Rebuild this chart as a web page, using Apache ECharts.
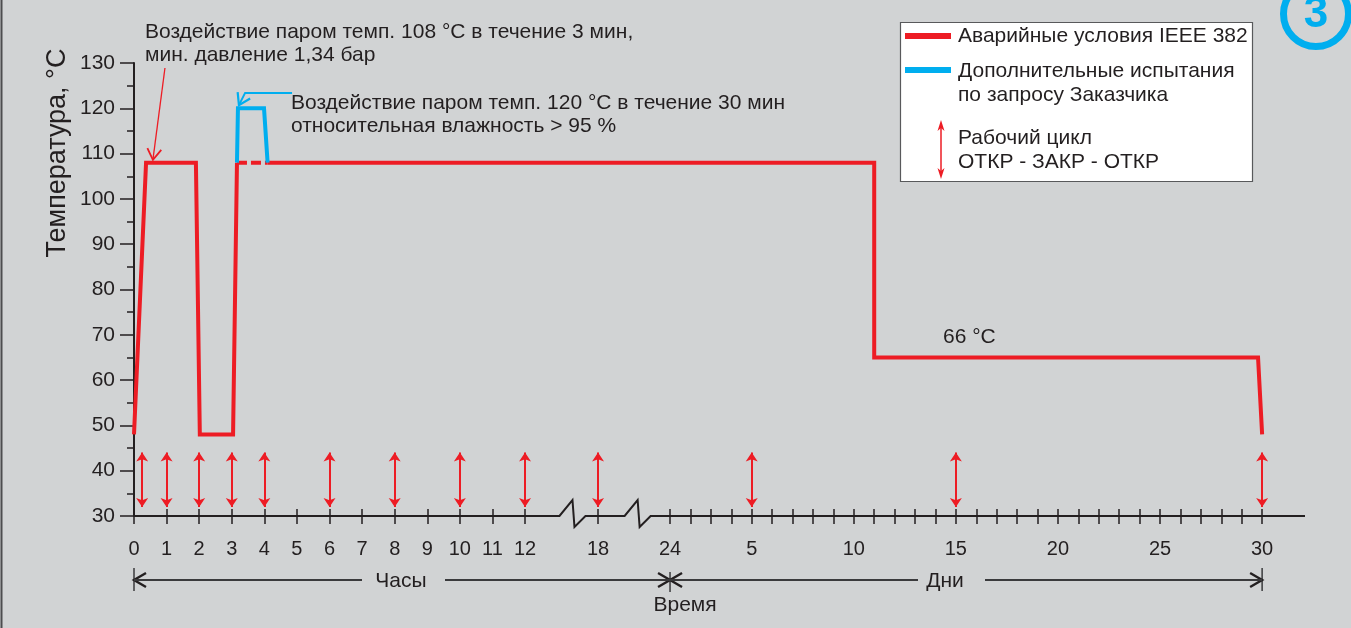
<!DOCTYPE html>
<html><head><meta charset="utf-8">
<script src="https://cdn.jsdelivr.net/npm/echarts@6/dist/echarts.min.js"></script>
<style>html,body{margin:0;padding:0;background:#d1d3d4;overflow:hidden}#c{width:1351px;height:628px}</style>
</head><body><div id="c"></div>
<script>
// ---------------- data ----------------
// Time axis ticks (hours part, then days part; day 1 == 24 h)
const hourTicks = [0,1,2,3,4,5,6,7,8,9,10,11,12,18,24];
const hourTickLabels = ['0','1','2','3','4','5','6','7','8','9','10','11','12','18','24'];
const dayTicks = [2,3,4,5,6,7,8,9,10,11,12,13,14,15,16,17,18,19,20,21,22,23,24,25,26,27,28,29,30];
const dayLabelDays = [5,10,15,20,25,30];
const dayTickLabels = ['5','10','15','20','25','30'];
const breakHours = [15.9, 21.3];
const xEndDays = 32.1;

// IEEE 382 accident profile (°C)
const ieeeHoursPart = [[0,48],[0.37,108],[1.9,108],[2.02,48],[3.04,48],[3.16,108]];
const ieeeDashedHours = [[3.16,108],[4.1,108]];
const ieeeLongStartHours = [[4.1,108]];
const ieeeDaysPart = [[11,108],[11,65],[29.8,65],[30,48]];
// Additional test on customer request
const extraHours = [[3.16,108],[3.19,120],[3.99,120],[4.1,108]];
// Operating cycles OPEN-CLOSE-OPEN
const cycleHours = [0.25,1,2,3,4,6,8,10,12,18];
const cycleDays = [5,15,30];
const cycleRange = [32,44];
// annotation leader lines (hours, °C)
const note108Line = [[0.95,128.9],[0.58,108.6]];
const note120Line = [[4.85,123.4],[3.41,123.4],[3.22,120.7]];

// ---------------- scale (piecewise time axis) ----------------
const anchorH = [0, 12, 18, 24, 720];
const anchorP = [0, 12, 14.24, 16.45, 34.62];
function pos(h){
  for (let i=0;i<anchorH.length-1;i++){
    if (h <= anchorH[i+1]) {
      return anchorP[i] + (h-anchorH[i])*(anchorP[i+1]-anchorP[i])/(anchorH[i+1]-anchorH[i]);
    }
  }
  const n = anchorH.length-1;
  return anchorP[n] + (h-anchorH[n])*(anchorP[n]-anchorP[n-1])/(anchorH[n]-anchorH[n-1]);
}
const dpos = d => pos(d*24);
const xMax = dpos(xEndDays);

const RED = '#ed1c24', BLUE = '#00aeef', INK = '#231f20';
const FONT = '"Liberation Sans", Arial, sans-serif';

const tickValues = hourTicks.map(pos).concat(dayTicks.map(dpos));
const labelValues = hourTicks.map(pos).concat(dayLabelDays.map(dpos));
const labelTexts = hourTickLabels.concat(dayTickLabels);
const labelMap = {};
labelValues.forEach((v,i)=>{ labelMap[v.toFixed(4)] = labelTexts[i]; });

const toXY = arr => arr.map(([h,t]) => [pos(h), t]);
const toXYd = arr => arr.map(([d,t]) => [dpos(d), t]);

function chevron(tip, from, len, half){
  const dx = tip[0]-from[0], dy = tip[1]-from[1];
  const L = Math.hypot(dx,dy); const ux = dx/L, uy = dy/L;
  const bx = tip[0]-ux*len, by = tip[1]-uy*len;
  return [[bx - uy*half, by + ux*half], tip, [bx + uy*half, by - ux*half]];
}

const chart = echarts.init(document.getElementById('c'), null, {renderer:'canvas'});

const option = {
  backgroundColor: '#d1d3d4',
  animation: false,
  textStyle: {fontFamily: FONT, color: INK},
  grid: {left:134, right:46, top:63, bottom:112, containLabel:false},
  xAxis: [{
    type:'value', min:0, max:xMax,
    axisLine:{show:false},
    splitLine:{show:false},
    axisTick:{show:true, customValues: tickValues, length:8, lineStyle:{color:INK, width:1.5}},
    axisLabel:{show:true, customValues: labelValues, margin:23, fontSize:20, color:INK, fontFamily:FONT,
      formatter: v => labelMap[v.toFixed(4)] || ''}
  },{
    type:'value', min:0, max:xMax, position:'bottom',
    axisLine:{show:false}, splitLine:{show:false},
    axisTick:{show:true, inside:true, customValues: tickValues, length:7, lineStyle:{color:INK, width:1.5}},
    axisLabel:{show:false}
  }],
  yAxis: {
    type:'value', min:30, max:130, interval:10,
    axisLine:{show:true, lineStyle:{color:INK, width:2}},
    axisTick:{show:true, length:14, lineStyle:{color:INK, width:1.5}},
    minorTick:{show:true, splitNumber:2, length:7, lineStyle:{color:INK, width:1.5}},
    splitLine:{show:false},
    axisLabel:{margin:19, fontSize:21, color:INK, fontFamily:FONT}
  },
  series: [
    { // x axis line with breaks
      type:'custom', name:'axis', silent:true, clip:false, z:1,
      data:[[0,30]],
      renderItem:(params, api) => {
        const y = 30;
        const pts = [api.coord([0,y])];
        const zig = [[-13,0],[0,-16],[2,11],[13,0]];
        breakHours.forEach(b => {
          const c = api.coord([pos(b), y]);
          zig.forEach(([dx,dy]) => pts.push([c[0]+dx, c[1]+dy]));
        });
        pts.push(api.coord([xMax,y]));
        return {type:'polyline', shape:{points:pts}, style:{stroke:INK, lineWidth:2, fill:null}};
      }
    },
    {
      type:'line', name:'Аварийные условия IEEE 382', data: toXY(ieeeHoursPart),
      showSymbol:false, z:3, lineStyle:{color:RED, width:4, join:'miter'}
    },
    {
      type:'line', name:'Аварийные условия IEEE 382', data: toXY(ieeeDashedHours),
      showSymbol:false, z:3, lineStyle:{color:RED, width:4, type:[10,4]}
    },
    {
      type:'line', name:'Аварийные условия IEEE 382', data: toXY(ieeeLongStartHours).concat(toXYd(ieeeDaysPart)),
      showSymbol:false, z:3, lineStyle:{color:RED, width:4, join:'miter'}
    },
    {
      type:'line', name:'Дополнительные испытания по запросу Заказчика', data: toXY(extraHours),
      showSymbol:false, z:4, lineStyle:{color:BLUE, width:4, join:'miter'}
    },
    {
      type:'lines', name:'Рабочий цикл ОТКР - ЗАКР - ОТКР', coordinateSystem:'cartesian2d', z:5,
      symbol:['arrow','arrow'], symbolSize:9,
      lineStyle:{color:RED, width:2, opacity:1},
      data: cycleHours.map(pos).concat(cycleDays.map(dpos)).map(p => ({coords:[[p,cycleRange[0]],[p,cycleRange[1]]]}))
    },
    { // annotation leader lines
      type:'custom', name:'notes', silent:true, clip:false, z:6,
      data:[[0,0]],
      renderItem:(params, api) => {
        const a = toXY(note108Line).map(p => api.coord(p));
        const b = toXY(note120Line).map(p => api.coord(p));
        const ca = chevron(a[a.length-1], a[a.length-2], 11, 7);
        const cb = chevron(b[b.length-1], b[b.length-2], 11, 7);
        return {type:'group', children:[
          {type:'polyline', shape:{points:a}, style:{stroke:RED, lineWidth:1.3, fill:null}},
          {type:'polyline', shape:{points:ca}, style:{stroke:RED, lineWidth:1.8, fill:null}},
          {type:'polyline', shape:{points:b}, style:{stroke:BLUE, lineWidth:2, fill:null}},
          {type:'polyline', shape:{points:cb}, style:{stroke:BLUE, lineWidth:2.2, fill:null}}
        ]};
      }
    },
    { // time span arrows under the axis
      type:'custom', name:'spans', silent:true, clip:false, z:6,
      data:[[0,0]],
      renderItem:(params, api) => {
        const x0 = api.coord([0,30])[0];
        const xm = api.coord([pos(24),30])[0];
        const xe = api.coord([dpos(30),30])[0];
        const y = api.coord([0,30])[1] + 64;
        const st = {stroke:'#3a3a3c', lineWidth:2, fill:null};
        const st2 = {stroke:INK, lineWidth:2.4, fill:null};
        const hc = 401, dc = 945;
        const ch = [];
        ch.push({type:'line', shape:{x1:x0,y1:y-12,x2:x0,y2:y+11}, style:{stroke:'#3a3a3c',lineWidth:1.5}});
        ch.push({type:'line', shape:{x1:xm,y1:y-8,x2:xm,y2:y+12}, style:{stroke:'#3a3a3c',lineWidth:1.5}});
        ch.push({type:'line', shape:{x1:xe,y1:y-12,x2:xe,y2:y+11}, style:{stroke:'#3a3a3c',lineWidth:1.5}});
        ch.push({type:'polyline', shape:{points:[[x0+12,y-7],[x0,y],[x0+12,y+7]]}, style:st2});
        ch.push({type:'polyline', shape:{points:[[xm-12,y-7],[xm,y],[xm-12,y+7]]}, style:st2});
        ch.push({type:'polyline', shape:{points:[[xm+12,y-7],[xm,y],[xm+12,y+7]]}, style:st2});
        ch.push({type:'polyline', shape:{points:[[xe-12,y-7],[xe,y],[xe-12,y+7]]}, style:st2});
        ch.push({type:'line', shape:{x1:x0,y1:y,x2:hc-39,y2:y}, style:st});
        ch.push({type:'line', shape:{x1:hc+44,y1:y,x2:xm,y2:y}, style:st});
        ch.push({type:'line', shape:{x1:xm,y1:y,x2:dc-27,y2:y}, style:st});
        ch.push({type:'line', shape:{x1:dc+40,y1:y,x2:xe,y2:y}, style:st});
        ch.push({type:'text', style:{x:hc, y:y+1, text:'Часы', fill:INK, font:'21px '+FONT, align:'center', verticalAlign:'middle'}});
        ch.push({type:'text', style:{x:dc, y:y+1, text:'Дни', fill:INK, font:'21px '+FONT, align:'center', verticalAlign:'middle'}});
        ch.push({type:'text', style:{x:xm+15, y:y+25, text:'Время', fill:INK, font:'21px '+FONT, align:'center', verticalAlign:'middle'}});
        return {type:'group', children:ch};
      }
    }
  ],
  graphic: [
    {type:'line', shape:{x1:1.5,y1:0,x2:1.5,y2:628}, style:{stroke:'#4d4d4f', lineWidth:2}},
    {type:'text', x:58, y:153, rotation:Math.PI/2, style:{text:'Температура, °C', fill:INK, font:'27px '+FONT, align:'center', verticalAlign:'middle'}},
    {type:'text', x:145, y:32, style:{text:'Воздействие паром темп. 108 °C в течение 3 мин,', fill:INK, font:'21px '+FONT, verticalAlign:'middle'}},
    {type:'text', x:145, y:55, style:{text:'мин. давление 1,34 бар', fill:INK, font:'21px '+FONT, verticalAlign:'middle'}},
    {type:'text', x:291, y:103, style:{text:'Воздействие паром темп. 120 °C в течение 30 мин', fill:INK, font:'21px '+FONT, verticalAlign:'middle'}},
    {type:'text', x:291, y:126, style:{text:'относительная влажность > 95 %', fill:INK, font:'21px '+FONT, verticalAlign:'middle'}},
    {type:'text', x:943, y:337, style:{text:'66 °C', fill:INK, font:'21px '+FONT, verticalAlign:'middle'}},
    // legend
    {type:'rect', shape:{x:900.5, y:22.5, width:352, height:159}, style:{fill:'#ffffff', stroke:'#58595b', lineWidth:1.2}},
    {type:'rect', shape:{x:905, y:33, width:46, height:6}, style:{fill:RED}},
    {type:'text', x:958, y:36, style:{text:'Аварийные условия IEEE 382', fill:INK, font:'21px '+FONT, verticalAlign:'middle'}},
    {type:'rect', shape:{x:905, y:67, width:46, height:6}, style:{fill:BLUE}},
    {type:'text', x:958, y:71, style:{text:'Дополнительные испытания', fill:INK, font:'21px '+FONT, verticalAlign:'middle'}},
    {type:'text', x:958, y:95, style:{text:'по запросу Заказчика', fill:INK, font:'21px '+FONT, verticalAlign:'middle'}},
    {type:'line', shape:{x1:941, y1:124, x2:941, y2:175}, style:{stroke:RED, lineWidth:1.5}},
    {type:'polygon', shape:{points:[[941,120],[944.5,131],[941,128],[937.5,131]]}, style:{fill:RED}},
    {type:'polygon', shape:{points:[[941,179],[944.5,168],[941,171],[937.5,168]]}, style:{fill:RED}},
    {type:'text', x:958, y:138, style:{text:'Рабочий цикл', fill:INK, font:'21px '+FONT, verticalAlign:'middle'}},
    {type:'text', x:958, y:162, style:{text:'ОТКР - ЗАКР - ОТКР', fill:INK, font:'21px '+FONT, verticalAlign:'middle'}},
    // badge
    {type:'circle', shape:{cx:1316, cy:14, r:32.5}, style:{fill:null, stroke:BLUE, lineWidth:7}},
    {type:'text', x:1316, y:15, style:{text:'3', fill:BLUE, font:'bold 44px '+FONT, align:'center', verticalAlign:'middle'}}
  ]
};
chart.setOption(option);
</script>
</body></html>
